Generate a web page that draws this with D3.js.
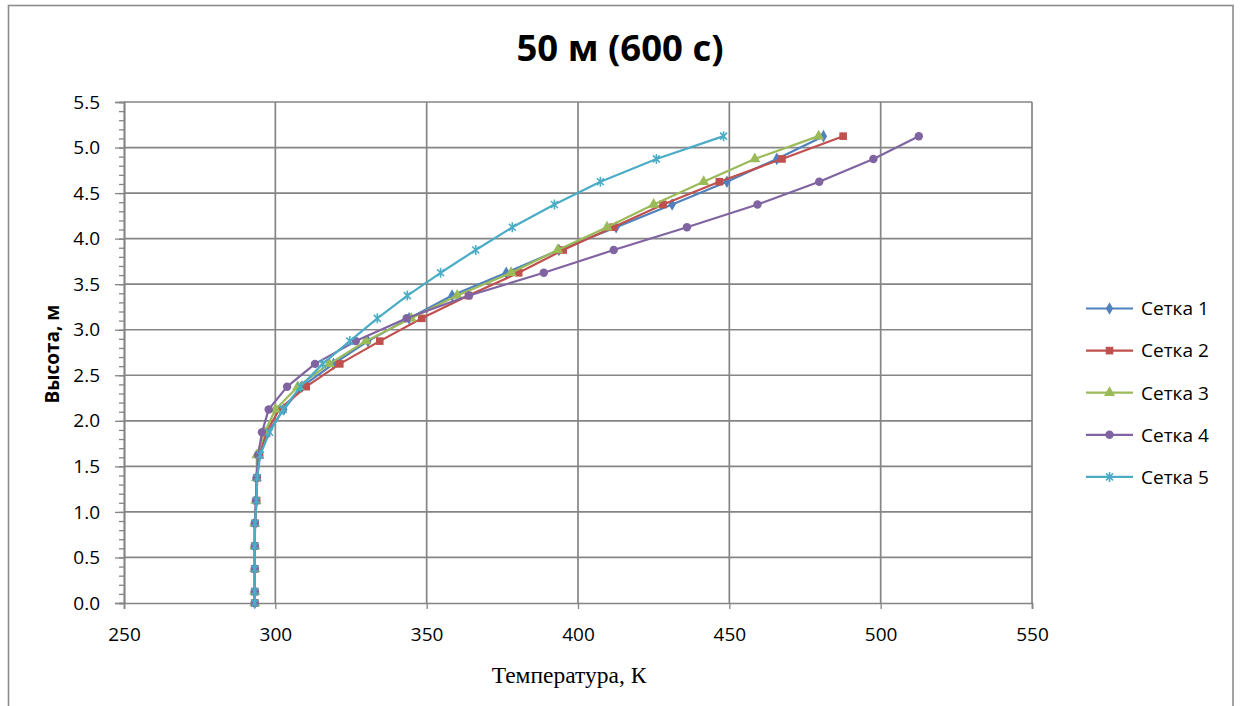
<!DOCTYPE html>
<html>
<head>
<meta charset="utf-8">
<script src="https://cdn.jsdelivr.net/npm/d3@7"></script>
<style>
  html, body { margin: 0; padding: 0; background: #fff; }
  svg { display: block; }
</style>
</head>
<body>
<svg id="chart" width="1240" height="706"></svg>
<script>
// Heights of the measurement points, m
const heights = [0, 0.125, 0.375, 0.625, 0.875, 1.125, 1.375, 1.625, 1.875, 2.125, 2.375,
                 2.625, 2.875, 3.125, 3.375, 3.625, 3.875, 4.125, 4.375, 4.625, 4.875, 5.125];

// Temperature, K, for each grid
const grid1 = [293.2, 293.2, 293.2, 293.2, 293.3, 293.7, 293.9, 294.8, 297.6, 302.8, 308.8,
               319.2, 330.6, 344.2, 358.4, 376.3, 393.7, 412.6, 431.1, 449.2, 465.7, 481.1];
const grid2 = [293.2, 293.2, 293.2, 293.2, 293.3, 293.8, 294.0, 294.8, 297.0, 301.3, 310.2,
               321.3, 334.5, 348.4, 363.8, 380.4, 395.1, 411.6, 428.1, 446.7, 467.4, 487.6];
const grid3 = [293.2, 293.2, 293.2, 293.2, 293.2, 293.6, 293.8, 293.9, 296.5, 300.0, 307.4,
               317.8, 329.9, 344.9, 360.1, 377.9, 393.3, 409.6, 425.0, 441.5, 458.4, 479.5];
const grid4 = [293.2, 293.2, 293.2, 293.2, 293.2, 293.6, 293.8, 294.3, 295.6, 297.8, 303.9,
               313.1, 326.6, 343.4, 364.0, 388.7, 411.8, 436.0, 459.3, 479.7, 497.6, 512.6];
const grid5 = [293.2, 293.2, 293.2, 293.2, 293.3, 293.8, 294.0, 295.0, 298.1, 302.6, 308.3,
               315.6, 324.6, 333.7, 343.6, 354.6, 366.2, 378.3, 392.2, 407.4, 425.9, 448.1];

const seriesNames = ["Сетка 1", "Сетка 2", "Сетка 3", "Сетка 4", "Сетка 5"];
const seriesColors = ["#4F81BD", "#C0504D", "#9BBB59", "#8064A2", "#4BACC6"];
const seriesMarkers = ["diamond", "square", "triangle", "circle", "star"];
const seriesValues = [grid1, grid2, grid3, grid4, grid5];

const xTicks = [250, 300, 350, 400, 450, 500, 550];
const yTicks = [0, 0.5, 1.0, 1.5, 2.0, 2.5, 3.0, 3.5, 4.0, 4.5, 5.0, 5.5];

const titleText = "50 м (600 с)";
const xTitle = "Температура, К";
const yTitle = "Высота, м";

const svg = d3.select("#chart");
const plot = { left: 124, right: 1032, top: 102, bottom: 603 };
const x = d3.scaleLinear().domain([250, 550]).range([plot.left, plot.right]);
const y = d3.scaleLinear().domain([0, 5.5]).range([plot.bottom, plot.top]);

const axisGray = "#858585";
const sansFont = "'Open Sans', 'Noto Sans', sans-serif";

// Outer chart frame
svg.append("rect")
  .attr("x", 8.5).attr("y", 5.5).attr("width", 1224.5).attr("height", 720)
  .attr("fill", "none").attr("stroke", "#8c8c8c").attr("stroke-width", 1.6);

// Gridlines
const grid = svg.append("g");
grid.selectAll("line.v").data(xTicks.slice(1)).join("line")
  .attr("x1", d => x(d)).attr("x2", d => x(d))
  .attr("y1", plot.top).attr("y2", plot.bottom)
  .attr("stroke", axisGray).attr("stroke-width", 1.7);
grid.selectAll("line.h").data(yTicks.slice(1)).join("line")
  .attr("x1", plot.left).attr("x2", plot.right)
  .attr("y1", d => y(d)).attr("y2", d => y(d))
  .attr("stroke", axisGray).attr("stroke-width", 1.7);

// Y axis with minor ticks every 0.1
const yMinor = d3.range(0, 56).map(i => i / 10);
const yAxisG = svg.append("g").attr("transform", `translate(${plot.left},0)`)
  .call(d3.axisLeft(y).tickValues(yMinor).tickSize(5).tickFormat(""));
const yAxisMajor = svg.append("g").attr("transform", `translate(${plot.left},0)`)
  .call(d3.axisLeft(y).tickValues(yTicks).tickSize(9).tickPadding(15).tickFormat(d3.format(".1f")));
// X axis
const xAxisG = svg.append("g").attr("transform", `translate(0,${plot.bottom})`)
  .call(d3.axisBottom(x).tickValues(xTicks).tickSize(6).tickPadding(19).tickFormat(d3.format("d")));

[yAxisG, yAxisMajor, xAxisG].forEach(g => {
  g.select(".domain").attr("stroke", axisGray).attr("stroke-width", 1.7);
  g.selectAll(".tick line").attr("stroke", axisGray).attr("stroke-width", 1.3);
  g.selectAll(".tick text").attr("fill", "#000")
    .style("font-family", sansFont).style("font-size", "19px");
});

// Marker shapes
function markerPath(type) {
  switch (type) {
    case "diamond": return d3.symbol(d3.symbolDiamond, 46)();
    case "square": return d3.symbol(d3.symbolSquare, 58)();
    case "triangle": return d3.symbol(d3.symbolTriangle, 54)();
    case "circle": return d3.symbol(d3.symbolCircle, 56)();
    default: {
      const s = 3.5;
      return `M${-s},${-s}L${s},${s}M${-s},${s}L${s},${-s}M0,${-s - 1.5}L0,${s + 1.5}`;
    }
  }
}

const line = d3.line().x(d => x(d[0])).y(d => y(d[1]));

seriesValues.forEach((vals, i) => {
  const pts = vals.map((t, j) => [t, heights[j]]);
  const g = svg.append("g");
  g.append("path").datum(pts).attr("d", line)
    .attr("fill", "none").attr("stroke", seriesColors[i])
    .attr("stroke-width", 2.2).attr("stroke-linejoin", "round");
  const isStar = seriesMarkers[i] === "star";
  g.selectAll("path.m").data(pts).join("path")
    .attr("transform", d => `translate(${x(d[0])},${y(d[1])})`)
    .attr("d", markerPath(seriesMarkers[i]))
    .attr("fill", isStar ? "none" : seriesColors[i])
    .attr("stroke", isStar ? seriesColors[i] : "none")
    .attr("stroke-width", isStar ? 1.6 : 0);
});

// Title
svg.append("text")
  .attr("x", 620).attr("y", 61).attr("text-anchor", "middle")
  .style("font-family", sansFont).style("font-weight", "bold").style("font-size", "36.5px")
  .text(titleText);

// Axis titles
svg.append("text")
  .attr("x", 569).attr("y", 683).attr("text-anchor", "middle")
  .style("font-family", "'Liberation Serif', 'Times New Roman', serif").style("font-size", "23.5px")
  .text(xTitle);
svg.append("text")
  .attr("transform", "translate(59,354) rotate(-90)").attr("text-anchor", "middle")
  .style("font-family", sansFont).style("font-weight", "bold").style("font-size", "19px")
  .text(yTitle);

// Legend
const legend = svg.append("g");
seriesNames.forEach((name, i) => {
  const ly = 308.5 + i * 42.1;
  const row = legend.append("g");
  row.append("line").attr("x1", 1086).attr("x2", 1133).attr("y1", ly).attr("y2", ly)
    .attr("stroke", seriesColors[i]).attr("stroke-width", 2.2);
  const isStar = seriesMarkers[i] === "star";
  row.append("path").attr("transform", `translate(1109.5,${ly})`)
    .attr("d", markerPath(seriesMarkers[i]))
    .attr("fill", isStar ? "none" : seriesColors[i])
    .attr("stroke", isStar ? seriesColors[i] : "none")
    .attr("stroke-width", isStar ? 1.6 : 0);
  row.append("text").attr("x", 1141).attr("y", ly).attr("dy", "0.36em")
    .style("font-family", sansFont).style("font-size", "19px")
    .text(name);
});
</script>
</body>
</html>
